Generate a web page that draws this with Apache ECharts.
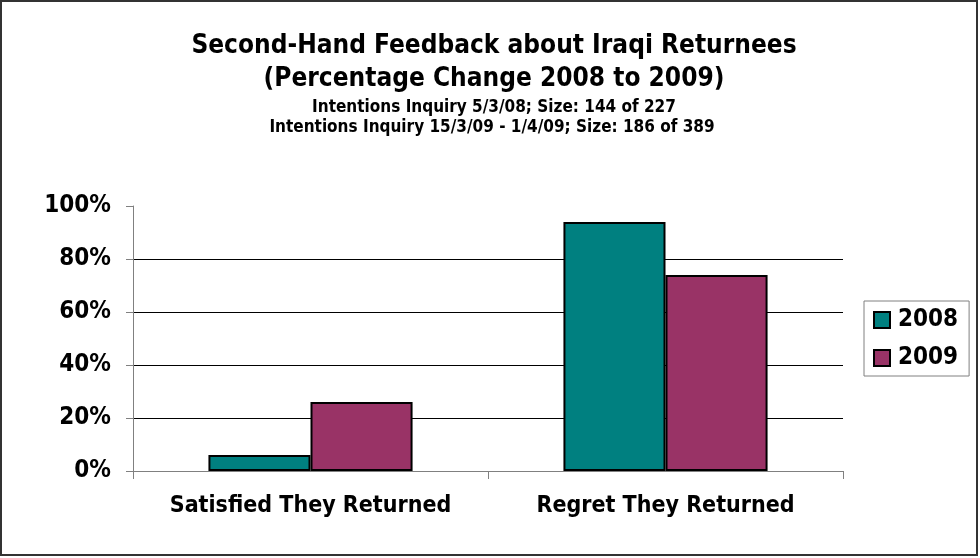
<!DOCTYPE html>
<html>
<head>
<meta charset="utf-8">
<script src="https://cdn.jsdelivr.net/npm/echarts@6/dist/echarts.min.js"></script>
<style>
html,body{margin:0;padding:0;background:#fff;}
#chart{width:980px;height:558px;}
</style>
</head>
<body>
<div id="chart"></div>
<script>
const categories = ['Satisfied They Returned', 'Regret They Returned'];
const seriesNames = ['2008', '2009'];
const values2008 = [6, 94];
const values2009 = [26, 74];
const yTicks = [0, 20, 40, 60, 80, 100];
const titleLines = [
  'Second-Hand Feedback about Iraqi Returnees',
  '(Percentage Change 2008 to 2009)'
];
const subtitleLines = [
  'Intentions Inquiry 5/3/08; Size: 144 of 227',
  'Intentions Inquiry 15/3/09 - 1/4/09; Size: 186 of 389'
];

const FONT = '"DejaVu Sans Condensed", "DejaVu Sans", Verdana, sans-serif';
const chart = echarts.init(document.getElementById('chart'), null, {renderer: 'canvas'});

chart.setOption({
  backgroundColor: '#fff',
  animation: false,
  textStyle: {fontFamily: FONT},
  graphic: [
    {type: 'rect', shape: {x: 1, y: 1, width: 976, height: 554}, style: {fill: 'none', stroke: '#333', lineWidth: 2}, silent: true},
    {type: 'text', x: 494, y: 46, style: {text: titleLines[0], font: 'bold 26px ' + FONT, fill: '#000', align: 'center', verticalAlign: 'middle'}},
    {type: 'text', x: 494, y: 79, style: {text: titleLines[1], font: 'bold 26px ' + FONT, fill: '#000', align: 'center', verticalAlign: 'middle'}},
    {type: 'text', x: 494, y: 108, style: {text: subtitleLines[0], font: 'bold 17px ' + FONT, fill: '#000', align: 'center', verticalAlign: 'middle'}},
    {type: 'text', x: 492, y: 128, style: {text: subtitleLines[1], font: 'bold 17px ' + FONT, fill: '#000', align: 'center', verticalAlign: 'middle'}}
  ],
  legend: {
    orient: 'vertical',
    left: 864,
    top: 301,
    data: seriesNames,
    itemWidth: 16,
    itemHeight: 16,
    itemGap: 14,
    padding: [7, 11, 6, 9],
    borderColor: '#808080',
    borderWidth: 1,
    icon: 'rect',
    textStyle: {fontFamily: FONT, fontWeight: 'bold', fontSize: 24, color: '#000', padding: [0, 0, 0, 3]}
  },
  grid: {left: 133, right: 137, top: 206, bottom: 87, containLabel: false},
  xAxis: {
    type: 'category',
    data: categories,
    axisLine: {lineStyle: {color: '#808080', width: 1}},
    axisTick: {show: true, length: 8, interval: 0, lineStyle: {color: '#808080'}},
    axisLabel: {interval: 0, fontFamily: FONT, fontWeight: 'bold', fontSize: 23, color: '#000', margin: 24}
  },
  yAxis: {
    type: 'value',
    min: 0,
    max: 100,
    interval: 20,
    axisLine: {show: true, lineStyle: {color: '#808080', width: 1}},
    axisTick: {show: true, length: 7, lineStyle: {color: '#808080'}},
    axisLabel: {fontFamily: FONT, fontWeight: 'bold', fontSize: 24, color: '#000', margin: 22, formatter: v => yTicks.includes(v) ? v + '%' : ''},
    splitLine: {show: true, showMaxLine: false, lineStyle: {color: '#000', width: 1}}
  },
  series: [
    {
      name: seriesNames[0], type: 'bar', data: values2008,
      barGap: '0%', barCategoryGap: '42.5%',
      itemStyle: {color: '#008080', borderColor: '#000', borderWidth: 2}
    },
    {
      name: seriesNames[1], type: 'bar', data: values2009,
      barGap: '0%', barCategoryGap: '42.5%',
      itemStyle: {color: '#993366', borderColor: '#000', borderWidth: 2}
    }
  ]
});
</script>
</body>
</html>
